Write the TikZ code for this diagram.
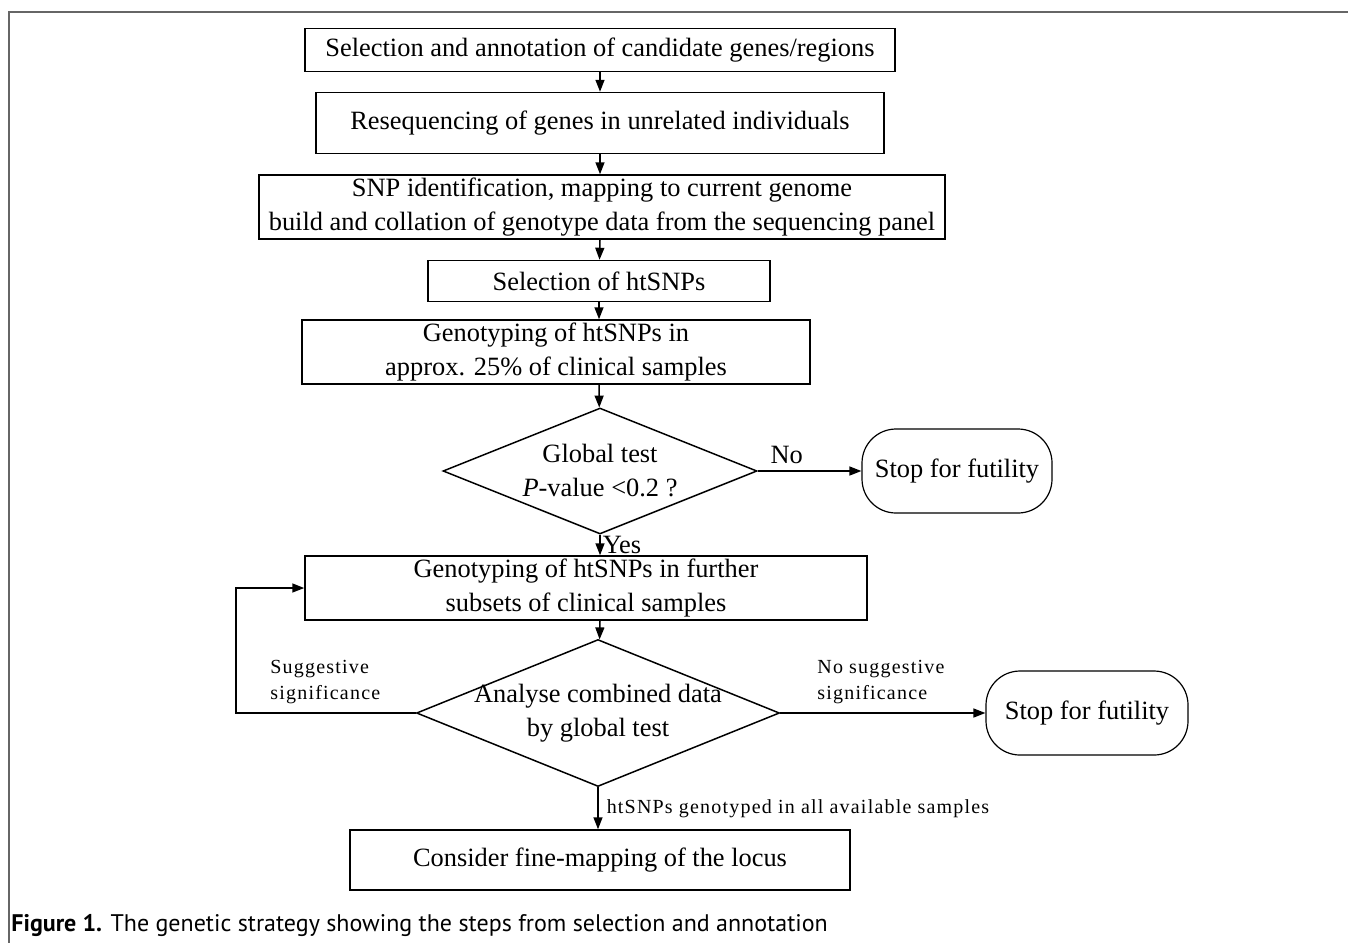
\documentclass[tikz,border=0pt]{standalone}
\usepackage{fontspec}
\setmainfont{Liberation Serif}
\newfontfamily\capfont{PT Sans}
\usetikzlibrary{arrows.meta,positioning,shapes.geometric}

\begin{document}
\begin{tikzpicture}[
    x=0.5pt, y=-0.5pt,
    font=\fontsize{13.2}{17}\selectfont,
    stepbox/.style={rectangle, draw, line width=0.75pt, align=center, inner sep=1pt},
    decision/.style={diamond, draw, line width=0.75pt, align=center, inner sep=0pt,
                     aspect=2.5},
    stopbox/.style={rectangle, draw, line width=0.6pt, rounded corners=17pt,
                    align=center, minimum height=42pt},
    lbl/.style={font=\fontsize{10}{13}\selectfont\addfontfeature{LetterSpace=6},
                align=left, inner sep=1pt},
    line/.style={-{Triangle[length=6pt,width=4.5pt]}, line width=0.75pt}
]
  \useasboundingbox (0,0) rectangle (1348,943);
  % frame of the figure
  \draw[gray!80!black, line width=1pt] (1348,12) -- (9,12) -- (9,943);

  \node[stepbox, minimum width=295pt, minimum height=21.5pt] (select) at (600,50)
    {Selection and annotation of candidate genes/regions};
  \node[stepbox, minimum width=284pt, minimum height=30.5pt] (reseq) at (600,123)
    {Resequencing of genes in unrelated individuals};
  \node[stepbox, minimum width=343pt, minimum height=32pt] (snp) at (602,207)
    {SNP identification, mapping to current genome\\
     build and collation of genotype data from the sequencing panel};
  \node[stepbox, minimum width=171pt, minimum height=20.5pt] (ht) at (599,281)
    {Selection of htSNPs};
  \node[stepbox, minimum width=254pt, minimum height=32pt] (geno) at (556,352)
    {Genotyping of htSNPs in\\ approx. 25\% of clinical samples};
  \node[decision, minimum width=157pt, minimum height=63pt] (gtest) at (600,471)
    {Global test\\ \textit{P}-value <0.2 ?};
  \node[stopbox, minimum width=95pt] (stopa) at (957,471) {Stop for futility};
  \node[stepbox, minimum width=281pt, minimum height=32pt] (further) at (586,588)
    {Genotyping of htSNPs in further\\ subsets of clinical samples};
  \node[decision, aspect=2.47, inner sep=-3.5pt, minimum width=181.5pt,
        minimum height=73.5pt] (combined) at (598,713)
    {Analyse combined data\\ by global test};
  \node[stopbox, minimum width=101pt] (stopb) at (1087,713) {Stop for futility};
  \node[stepbox, minimum width=250pt, minimum height=30pt] (locus) at (600,860)
    {Consider fine-mapping of the locus};
  \node[anchor=west, inner sep=0pt, font=\capfont\fontsize{12}{14}\selectfont]
    (caption) at (11,925)
    {\textbf{Figure 1.} The genetic strategy showing the steps from selection and annotation};

  \coordinate (loop) at (236,713);

  \draw[line] (select) -- (reseq);
  \draw[line] (reseq) -- (snp.north -| reseq);
  \draw[line] (snp.south -| reseq) -- (ht);
  \draw[line] (ht) -- (ht |- geno.north);
  \draw[line] (ht |- geno.south) -- (gtest);
  \draw[line] (gtest) -- node[above, pos=0.28] {No} (stopa);
  \draw[line] (gtest) -- node[right, inner sep=1pt] {Yes} (gtest |- further.north);
  \draw[line] (gtest |- further.south) -- (combined);
  \draw[line] (combined.west) -- (loop) |- (further.west);
  \node[lbl, anchor=south west] (sugg) at (268,706) {Suggestive\\ significance};
  \draw[line] (combined.east) -- (stopb);
  \node[lbl, anchor=south west] (nosugg) at (815,706) {No suggestive\\ significance};
  \draw[line] (combined.south) -- node[lbl, right=3pt] {htSNPs genotyped in all available samples}
    (locus.north -| combined);
\end{tikzpicture}
\end{document}
